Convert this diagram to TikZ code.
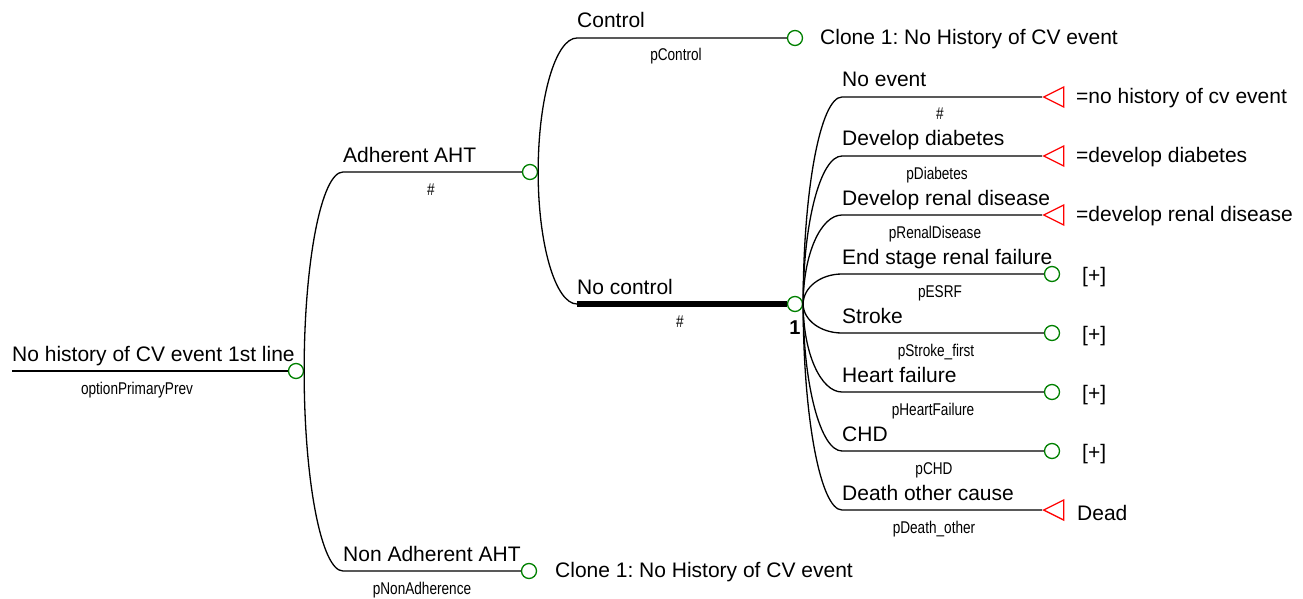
\documentclass[tikz,border=0pt]{standalone}
\usepackage{fontspec}
\setmainfont{Liberation Sans}
\usepackage{graphicx}
\usetikzlibrary{shapes,arrows,positioning,calc}

\frenchspacing
\newcommand{\plab}[1]{\scalebox{0.8}[1]{\fontsize{17}{19}\selectfont #1}}

\begin{document}
\begin{tikzpicture}[x=1pt,y=-1pt,
  branch/.style={line width=1.3pt},
  thickbranch/.style={line width=6pt},
  chance/.style={circle,draw=green!50!black,line width=1.3pt,minimum size=15pt,inner sep=0pt},
  termnode/.style={isosceles triangle,isosceles triangle stretches,shape border rotate=180,draw=red,line width=1.3pt,minimum width=20pt,minimum height=20pt,inner sep=0pt,anchor=apex},
  brlab/.style={anchor=base west,inner sep=0pt,font=\fontsize{21}{25}\selectfont},
  prlab/.style={anchor=base,inner sep=0pt},
  endlab/.style={anchor=west,inner sep=0pt,font=\fontsize{21}{25}\selectfont},
  treecurve/.style={to path={.. controls ($(\tikztostart)!0.552!(\tikztostart|-\tikztotarget)$) and ($(\tikztotarget)!0.552!(\tikztostart|-\tikztotarget)$) .. (\tikztotarget)}}]
        \useasboundingbox (0,0) rectangle (1303,599);

        % root
        \coordinate (root0) at (12,371);
        \node [chance] (root) at (296,371) {};
        \draw [branch] (root0) -- (root.west);
        \node [brlab] (rootlab) at ($(root0)+(0,-10)$) {No history of CV event 1st line};
        \node [prlab] (rootp) at (137,394) {\plab{optionPrimaryPrev}};

        % adherent
        \coordinate (adh0) at (343,172);
        \node [chance] (adh) at (530,172) {};
        \draw [branch] (root.east) to[treecurve] (adh0) -- (adh.west);
        \node [brlab] (adhlab) at ($(adh0)+(0,-10)$) {Adherent AHT};
        \node [prlab] (adhp) at (431,195) {\plab{\#}};

        % non adherent
        \coordinate (nonadh0) at (343,571);
        \node [chance] (nonadh) at (529,571) {};
        \draw [branch] (root.east) to[treecurve] (nonadh0) -- (nonadh.west);
        \node [brlab] (nonadhlab) at ($(nonadh0)+(0,-10)$) {Non Adherent AHT};
        \node [prlab] (nonadhp) at (422,594) {\plab{pNonAdherence}};
        \node [endlab] (nonadhend) at (555,572) {Clone 1: No History of CV event};

        % control
        \coordinate (ctrl0) at (577,38);
        \node [chance] (ctrl) at (795,38) {};
        \draw [branch] (adh.east) to[treecurve] (ctrl0) -- (ctrl.west);
        \node [brlab] (ctrllab) at ($(ctrl0)+(0,-10)$) {Control};
        \node [prlab] (ctrlp) at (676,61) {\plab{pControl}};
        \node [endlab] (ctrlend) at (820,39) {Clone 1: No History of CV event};

        % no control
        \coordinate (noctrl0) at (577,304);
        \node [chance] (noctrl) at (795,304) {};
        \draw [branch] (adh.east) to[treecurve] (noctrl0);
        \draw [thickbranch] (noctrl0) -- (noctrl.west);
        \node [brlab] (noctrllab) at ($(noctrl0)+(0,-10)$) {No control};
        \node [prlab] (noctrlp) at (680,327) {\plab{\#}};
        \node [font=\bfseries\fontsize{20}{22}\selectfont] (noctrlnum) at (795,328) {1};

        % no event
        \coordinate (noev0) at (842,97);
        \node [termnode] (noev) at (1042,97) {};
        \draw [branch] (noctrl.east) to[treecurve] (noev0) -- (noev.apex);
        \node [brlab] (noevlab) at ($(noev0)+(0,-10)$) {No event};
        \node [prlab] (noevp) at (940,120) {\plab{\#}};
        \node [endlab] (noevend) at (1076,98) {=no history of cv event};

        % diabetes
        \coordinate (diab0) at (842,156);
        \node [termnode] (diab) at (1042,156) {};
        \draw [branch] (noctrl.east) to[treecurve] (diab0) -- (diab.apex);
        \node [brlab] (diablab) at ($(diab0)+(0,-10)$) {Develop diabetes};
        \node [prlab] (diabp) at (937,179) {\plab{pDiabetes}};
        \node [endlab] (diabend) at (1076,157) {=develop diabetes};

        % renal disease
        \coordinate (renal0) at (842,215);
        \node [termnode] (renal) at (1042,215) {};
        \draw [branch] (noctrl.east) to[treecurve] (renal0) -- (renal.apex);
        \node [brlab] (renallab) at ($(renal0)+(0,-10)$) {Develop renal disease};
        \node [prlab] (renalp) at (935,238) {\plab{pRenalDisease}};
        \node [endlab] (renalend) at (1076,216) {=develop renal disease};

        % esrf
        \coordinate (esrf0) at (842,274);
        \node [chance] (esrf) at (1052,274) {};
        \draw [branch] (noctrl.east) to[treecurve] (esrf0) -- (esrf.west);
        \node [brlab] (esrflab) at ($(esrf0)+(0,-10)$) {End stage renal failure};
        \node [prlab] (esrfp) at (940,297) {\plab{pESRF}};
        \node [endlab] (esrfend) at (1082,277) {[+]};

        % stroke
        \coordinate (stroke0) at (842,333);
        \node [chance] (stroke) at (1052,333) {};
        \draw [branch] (noctrl.east) to[treecurve] (stroke0) -- (stroke.west);
        \node [brlab] (strokelab) at ($(stroke0)+(0,-10)$) {Stroke};
        \node [prlab] (strokep) at (936,356) {\plab{pStroke\_first}};
        \node [endlab] (strokeend) at (1082,336) {[+]};

        % heart failure
        \coordinate (hf0) at (842,392);
        \node [chance] (hf) at (1052,392) {};
        \draw [branch] (noctrl.east) to[treecurve] (hf0) -- (hf.west);
        \node [brlab] (hflab) at ($(hf0)+(0,-10)$) {Heart failure};
        \node [prlab] (hfp) at (933,415) {\plab{pHeartFailure}};
        \node [endlab] (hfend) at (1082,395) {[+]};

        % chd
        \coordinate (chd0) at (842,451);
        \node [chance] (chd) at (1052,451) {};
        \draw [branch] (noctrl.east) to[treecurve] (chd0) -- (chd.west);
        \node [brlab] (chdlab) at ($(chd0)+(0,-10)$) {CHD};
        \node [prlab] (chdp) at (934,474) {\plab{pCHD}};
        \node [endlab] (chdend) at (1082,454) {[+]};

        % death other cause
        \coordinate (death0) at (842,510);
        \node [termnode] (death) at (1042,510) {};
        \draw [branch] (noctrl.east) to[treecurve] (death0) -- (death.apex);
        \node [brlab] (deathlab) at ($(death0)+(0,-10)$) {Death other cause};
        \node [prlab] (deathp) at (934,533) {\plab{pDeath\_other}};
        \node [endlab] (deathend) at (1077,513) {Dead};
\end{tikzpicture}
\end{document}
